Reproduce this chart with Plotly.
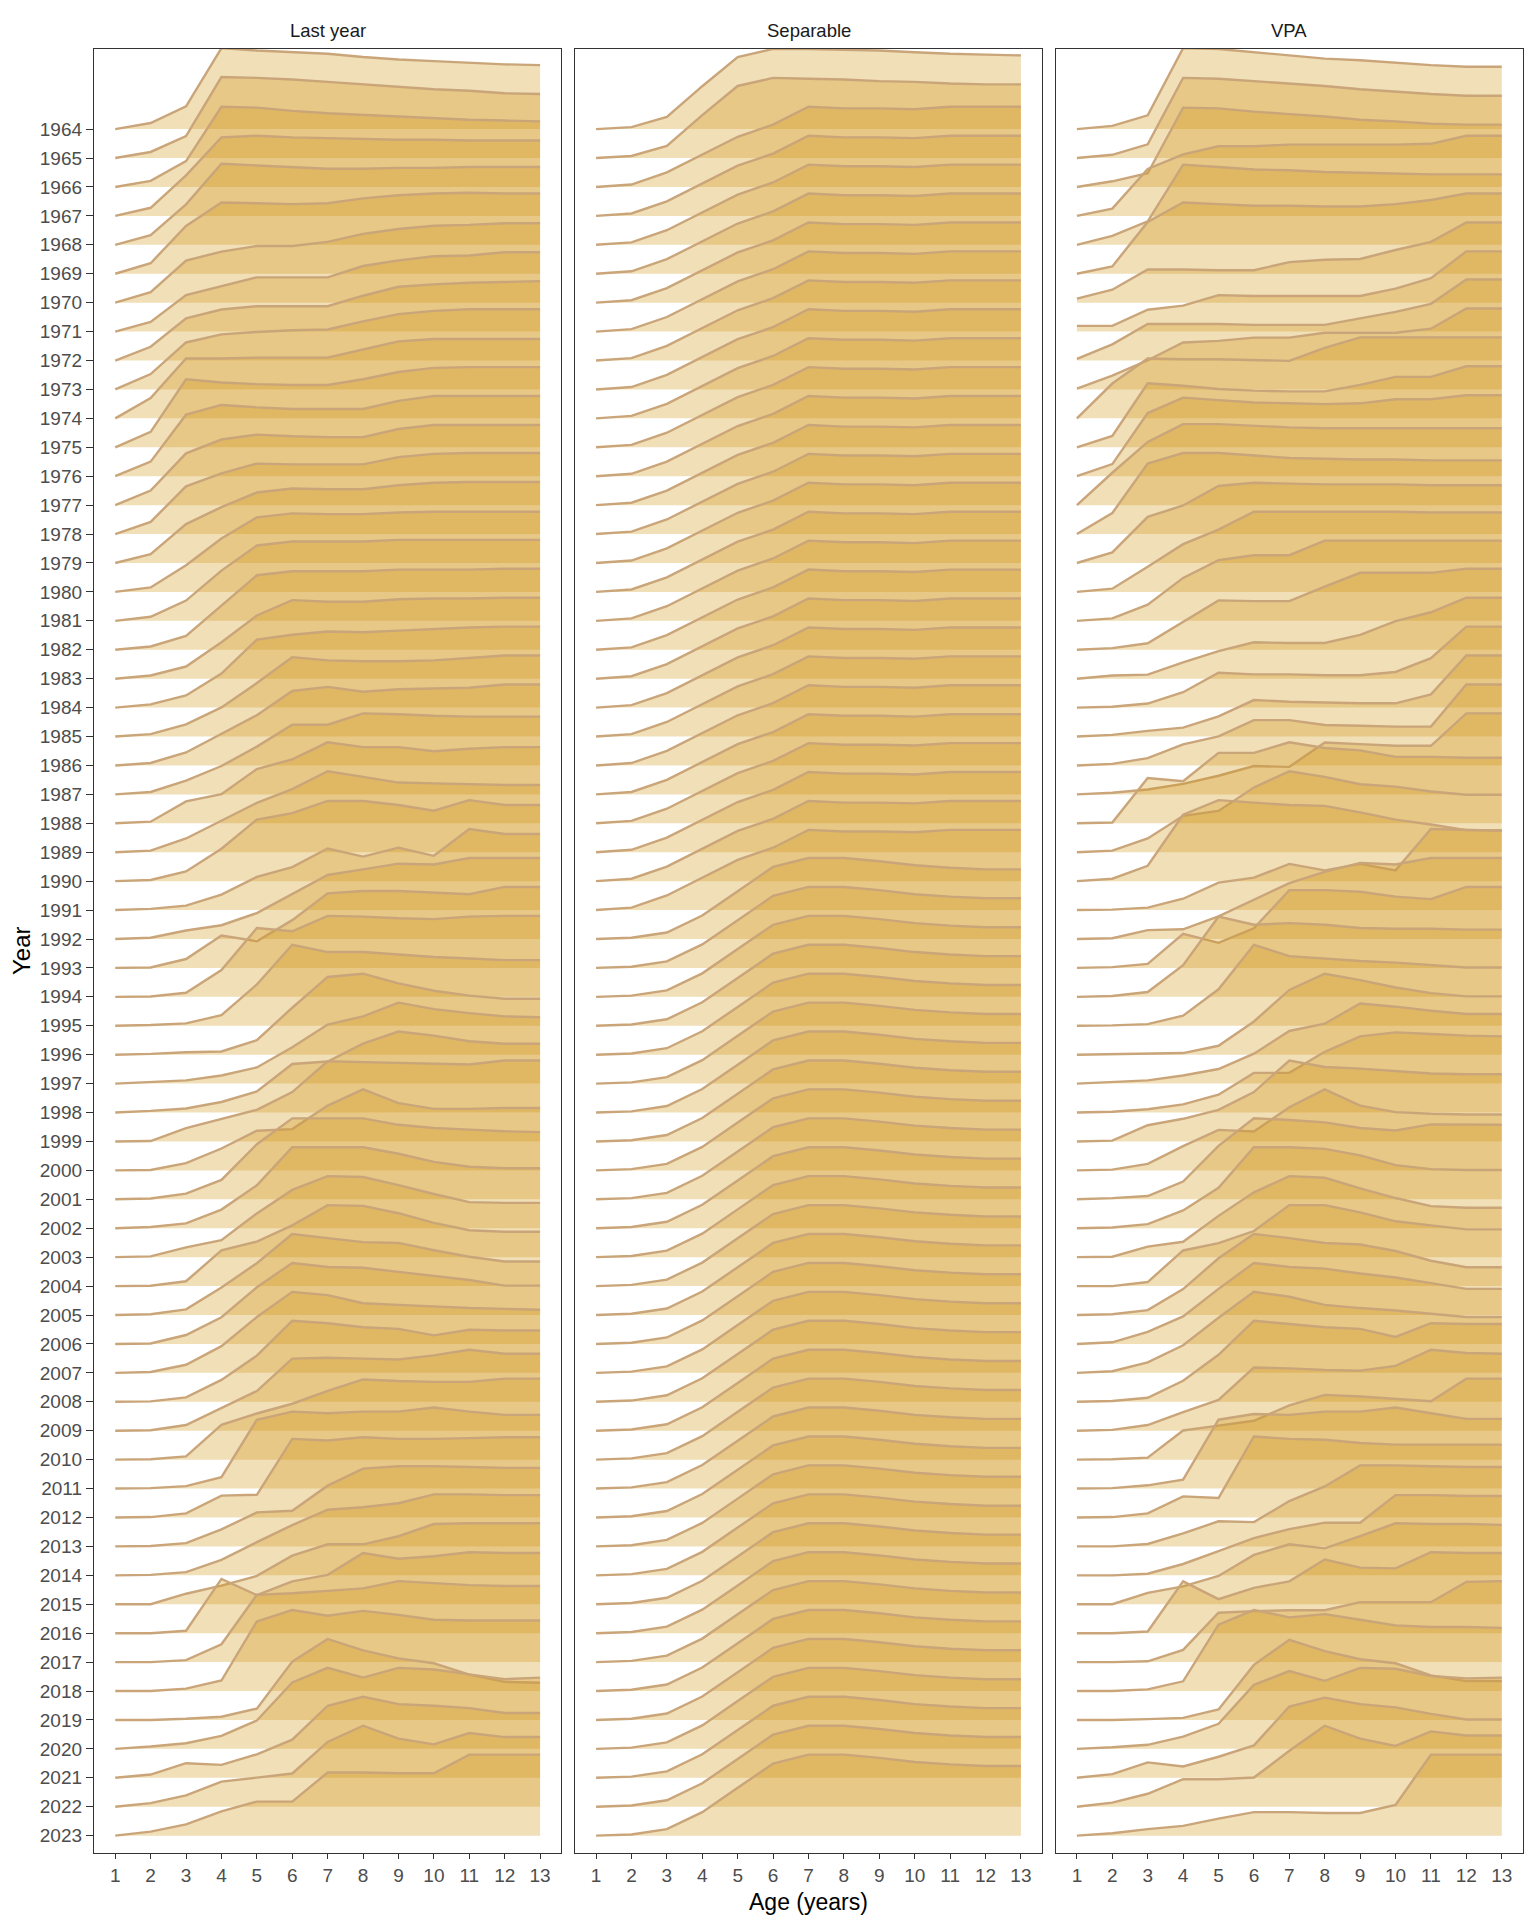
import plotly.graph_objects as go

YEARS = list(range(1964, 2024))
AGES = list(range(1, 14))
PANELS = ["Last year", "Separable", "VPA"]

# relative selectivity at age, one row per year 1964..2023
last_year = [
    [0, 0.075, 0.28, 1.0, 0.97, 0.95, 0.93, 0.89, 0.86, 0.84, 0.82, 0.80, 0.79],
    [0, 0.075, 0.27, 1.0, 0.99, 0.97, 0.94, 0.91, 0.88, 0.85, 0.83, 0.80, 0.79],
    [0, 0.075, 0.32, 0.99, 0.98, 0.94, 0.91, 0.89, 0.87, 0.85, 0.83, 0.82, 0.81],
    [0, 0.10, 0.50, 0.97, 0.99, 0.97, 0.96, 0.95, 0.94, 0.94, 0.93, 0.93, 0.93],
    [0, 0.12, 0.50, 1.0, 0.98, 0.96, 0.94, 0.94, 0.95, 0.95, 0.96, 0.96, 0.96],
    [0, 0.13, 0.59, 0.88, 0.87, 0.86, 0.87, 0.93, 0.97, 0.99, 1.0, 0.99, 0.99],
    [0, 0.13, 0.52, 0.63, 0.70, 0.70, 0.75, 0.85, 0.91, 0.95, 0.96, 0.98, 0.98],
    [0, 0.12, 0.45, 0.56, 0.67, 0.67, 0.67, 0.81, 0.88, 0.93, 0.94, 0.98, 0.98],
    [0, 0.17, 0.52, 0.63, 0.67, 0.67, 0.67, 0.80, 0.91, 0.94, 0.96, 0.97, 0.98],
    [0, 0.19, 0.58, 0.68, 0.71, 0.73, 0.74, 0.84, 0.93, 0.97, 0.99, 0.99, 0.99],
    [0, 0.25, 0.74, 0.74, 0.75, 0.75, 0.75, 0.85, 0.95, 0.98, 0.98, 0.98, 0.98],
    [0, 0.19, 0.84, 0.80, 0.78, 0.77, 0.77, 0.84, 0.93, 0.98, 0.99, 0.99, 0.99],
    [0, 0.18, 0.76, 0.88, 0.85, 0.83, 0.83, 0.83, 0.93, 0.99, 0.99, 0.99, 0.99],
    [0, 0.18, 0.64, 0.81, 0.87, 0.85, 0.84, 0.84, 0.94, 0.99, 0.99, 0.99, 0.99],
    [0, 0.15, 0.59, 0.75, 0.87, 0.86, 0.86, 0.86, 0.95, 0.99, 1.0, 1.0, 1.0],
    [0, 0.11, 0.48, 0.69, 0.87, 0.92, 0.91, 0.91, 0.96, 0.99, 1.0, 1.0, 1.0],
    [0, 0.055, 0.33, 0.66, 0.92, 0.97, 0.96, 0.96, 0.98, 0.99, 0.99, 0.99, 0.99],
    [0, 0.05, 0.25, 0.62, 0.93, 0.98, 0.98, 0.98, 1.0, 1.0, 1.0, 1.0, 1.0],
    [0, 0.04, 0.17, 0.55, 0.92, 0.97, 0.97, 0.97, 0.99, 0.99, 0.99, 1.0, 1.0],
    [0, 0.04, 0.15, 0.45, 0.78, 0.97, 0.95, 0.95, 0.98, 0.99, 0.99, 1.0, 1.0],
    [0, 0.04, 0.15, 0.42, 0.84, 0.90, 0.94, 0.93, 0.95, 0.97, 0.99, 1.0, 1.0],
    [0, 0.03, 0.15, 0.36, 0.66, 0.98, 0.94, 0.93, 0.93, 0.94, 0.97, 1.0, 1.0],
    [0, 0.03, 0.16, 0.39, 0.62, 0.92, 0.97, 0.91, 0.94, 0.95, 0.96, 1.0, 1.0],
    [0, 0.03, 0.17, 0.35, 0.59, 0.86, 0.86, 1.0, 0.99, 0.97, 0.96, 0.96, 0.96],
    [0, 0.02, 0.27, 0.36, 0.67, 0.79, 1.0, 0.94, 0.94, 0.89, 0.92, 0.94, 0.94],
    [0, 0.02, 0.17, 0.39, 0.61, 0.78, 1.0, 0.93, 0.86, 0.85, 0.84, 0.83, 0.83],
    [0, 0.015, 0.12, 0.40, 0.76, 0.84, 0.99, 0.99, 0.94, 0.87, 1.0, 0.94, 0.94],
    [0, 0.015, 0.055, 0.19, 0.41, 0.53, 0.76, 0.66, 0.77, 0.67, 1.0, 0.94, 0.94],
    [0, 0.015, 0.105, 0.17, 0.32, 0.55, 0.79, 0.86, 0.93, 0.92, 1.0, 1.0, 1.0],
    [0, 0.005, 0.11, 0.40, 0.33, 0.59, 0.92, 0.95, 0.95, 0.93, 0.91, 1.0, 1.0],
    [0, 0.005, 0.05, 0.33, 0.85, 0.81, 1.0, 0.99, 0.97, 0.96, 0.99, 1.0, 1.0],
    [0, 0.01, 0.03, 0.13, 0.51, 1.0, 0.91, 0.91, 0.88, 0.85, 0.83, 0.81, 0.81],
    [0, 0.01, 0.03, 0.04, 0.18, 0.58, 0.96, 1.0, 0.88, 0.79, 0.73, 0.69, 0.69],
    [0, 0.02, 0.04, 0.10, 0.20, 0.45, 0.73, 0.83, 1.0, 0.92, 0.87, 0.83, 0.82],
    [0, 0.02, 0.05, 0.13, 0.26, 0.60, 0.63, 0.85, 1.0, 0.95, 0.88, 0.85, 0.85],
    [0, 0.005, 0.165, 0.28, 0.39, 0.61, 0.99, 0.98, 0.97, 0.96, 0.95, 1.0, 1.0],
    [0, 0.005, 0.09, 0.27, 0.49, 0.51, 0.80, 1.0, 0.83, 0.76, 0.76, 0.77, 0.77],
    [0, 0.01, 0.07, 0.24, 0.68, 1.0, 1.0, 1.0, 0.92, 0.88, 0.86, 0.84, 0.83],
    [0, 0.015, 0.06, 0.23, 0.53, 1.0, 1.0, 1.0, 0.92, 0.82, 0.76, 0.74, 0.74],
    [0, 0.01, 0.12, 0.21, 0.54, 0.83, 1.0, 0.99, 0.89, 0.78, 0.68, 0.67, 0.67],
    [0, 0.005, 0.06, 0.44, 0.55, 0.75, 1.0, 0.99, 0.90, 0.78, 0.69, 0.67, 0.67],
    [0, 0.01, 0.07, 0.34, 0.64, 1.0, 0.95, 0.90, 0.89, 0.80, 0.72, 0.66, 0.66],
    [0, 0.005, 0.11, 0.33, 0.70, 1.0, 0.95, 0.94, 0.89, 0.84, 0.79, 0.72, 0.72],
    [0, 0.01, 0.10, 0.33, 0.69, 1.0, 0.96, 0.86, 0.84, 0.82, 0.80, 0.79, 0.78],
    [0, 0.005, 0.055, 0.27, 0.57, 1.0, 0.97, 0.92, 0.90, 0.82, 0.89, 0.88, 0.88],
    [0, 0.005, 0.07, 0.28, 0.49, 0.89, 0.90, 0.89, 0.88, 0.93, 1.0, 0.95, 0.95],
    [0, 0.005, 0.04, 0.43, 0.57, 0.69, 0.85, 0.99, 0.97, 0.96, 0.96, 1.0, 1.0],
    [0, 0.005, 0.03, 0.14, 0.85, 0.95, 0.93, 0.95, 0.95, 1.0, 0.95, 0.91, 0.91],
    [0, 0.005, 0.05, 0.27, 0.28, 0.97, 0.95, 0.99, 0.97, 0.97, 0.98, 0.99, 0.99],
    [0, 0.005, 0.04, 0.21, 0.42, 0.44, 0.75, 0.96, 0.99, 0.99, 0.98, 0.97, 0.97],
    [0, 0.005, 0.04, 0.19, 0.41, 0.62, 0.81, 0.84, 0.89, 1.0, 1.0, 0.99, 0.99],
    [0, 0.0, 0.13, 0.23, 0.35, 0.60, 0.74, 0.74, 0.84, 0.99, 1.0, 1.0, 1.0],
    [0, 0.0, 0.03, 0.67, 0.47, 0.64, 0.72, 0.99, 0.92, 0.95, 1.0, 0.99, 0.99],
    [0, 0.0, 0.025, 0.22, 0.83, 0.85, 0.88, 0.91, 1.0, 0.975, 0.95, 0.94, 0.94],
    [0, 0.0, 0.03, 0.13, 0.86, 1.0, 0.93, 0.99, 0.94, 0.88, 0.87, 0.87, 0.87],
    [0, 0.0, 0.015, 0.04, 0.14, 0.72, 1.0, 0.86, 0.76, 0.70, 0.56, 0.47, 0.46],
    [0, 0.03, 0.07, 0.16, 0.35, 0.82, 1.0, 0.88, 1.0, 0.98, 0.92, 0.86, 0.88],
    [0, 0.04, 0.18, 0.16, 0.29, 0.47, 0.89, 1.0, 0.91, 0.89, 0.86, 0.80, 0.80],
    [0, 0.045, 0.14, 0.31, 0.36, 0.41, 0.80, 1.0, 0.84, 0.77, 0.91, 0.86, 0.86],
    [0, 0.05, 0.14, 0.30, 0.42, 0.42, 0.78, 0.78, 0.77, 0.77, 1.0, 1.0, 1.0],
]

separable = [
    [0, 0.025, 0.15, 0.53, 0.89, 0.99, 0.99, 0.98, 0.97, 0.95, 0.93, 0.92, 0.91],
    [0, 0.025, 0.15, 0.53, 0.89, 0.99, 0.98, 0.97, 0.95, 0.94, 0.92, 0.91, 0.91],
    [0, 0.03, 0.18, 0.40, 0.62, 0.77, 0.99, 0.97, 0.97, 0.96, 0.99, 0.99, 0.99],
    [0, 0.03, 0.18, 0.40, 0.62, 0.77, 0.99, 0.97, 0.97, 0.96, 0.99, 0.99, 0.99],
    [0, 0.03, 0.18, 0.40, 0.62, 0.77, 0.99, 0.97, 0.97, 0.96, 0.99, 0.99, 0.99],
    [0, 0.03, 0.18, 0.40, 0.62, 0.77, 0.99, 0.97, 0.97, 0.96, 0.99, 0.99, 0.99],
    [0, 0.03, 0.18, 0.40, 0.62, 0.77, 0.99, 0.97, 0.97, 0.96, 0.99, 0.99, 0.99],
    [0, 0.03, 0.18, 0.40, 0.62, 0.77, 0.99, 0.97, 0.97, 0.96, 0.99, 0.99, 0.99],
    [0, 0.03, 0.18, 0.40, 0.62, 0.77, 0.99, 0.97, 0.97, 0.96, 0.99, 0.99, 0.99],
    [0, 0.03, 0.18, 0.40, 0.62, 0.77, 0.99, 0.97, 0.97, 0.96, 0.99, 0.99, 0.99],
    [0, 0.03, 0.18, 0.40, 0.62, 0.77, 0.99, 0.97, 0.97, 0.96, 0.99, 0.99, 0.99],
    [0, 0.03, 0.18, 0.40, 0.62, 0.77, 0.99, 0.97, 0.97, 0.96, 0.99, 0.99, 0.99],
    [0, 0.03, 0.18, 0.40, 0.62, 0.77, 0.99, 0.97, 0.97, 0.96, 0.99, 0.99, 0.99],
    [0, 0.03, 0.18, 0.40, 0.62, 0.77, 0.99, 0.97, 0.97, 0.96, 0.99, 0.99, 0.99],
    [0, 0.03, 0.18, 0.40, 0.62, 0.77, 0.99, 0.97, 0.97, 0.96, 0.99, 0.99, 0.99],
    [0, 0.03, 0.18, 0.40, 0.62, 0.77, 0.99, 0.97, 0.97, 0.96, 0.99, 0.99, 0.99],
    [0, 0.03, 0.18, 0.40, 0.62, 0.77, 0.99, 0.97, 0.97, 0.96, 0.99, 0.99, 0.99],
    [0, 0.03, 0.18, 0.40, 0.62, 0.77, 0.99, 0.97, 0.97, 0.96, 0.99, 0.99, 0.99],
    [0, 0.03, 0.18, 0.40, 0.62, 0.77, 0.99, 0.97, 0.97, 0.96, 0.99, 0.99, 0.99],
    [0, 0.03, 0.18, 0.40, 0.62, 0.77, 0.99, 0.97, 0.97, 0.96, 0.99, 0.99, 0.99],
    [0, 0.03, 0.18, 0.40, 0.62, 0.77, 0.99, 0.97, 0.97, 0.96, 0.99, 0.99, 0.99],
    [0, 0.03, 0.18, 0.40, 0.62, 0.77, 0.99, 0.97, 0.97, 0.96, 0.99, 0.99, 0.99],
    [0, 0.03, 0.18, 0.40, 0.62, 0.77, 0.99, 0.97, 0.97, 0.96, 0.99, 0.99, 0.99],
    [0, 0.03, 0.18, 0.40, 0.62, 0.77, 0.99, 0.97, 0.97, 0.96, 0.99, 0.99, 0.99],
    [0, 0.03, 0.18, 0.40, 0.62, 0.77, 0.99, 0.97, 0.97, 0.96, 0.99, 0.99, 0.99],
    [0, 0.03, 0.18, 0.40, 0.62, 0.77, 0.99, 0.97, 0.97, 0.96, 0.99, 0.99, 0.99],
    [0, 0.03, 0.18, 0.40, 0.62, 0.77, 0.99, 0.97, 0.97, 0.96, 0.99, 0.99, 0.99],
    [0, 0.03, 0.18, 0.40, 0.62, 0.77, 0.99, 0.97, 0.97, 0.96, 0.99, 0.99, 0.99],
    [0, 0.015, 0.08, 0.29, 0.59, 0.89, 1.0, 1.0, 0.96, 0.91, 0.88, 0.86, 0.86],
    [0, 0.015, 0.08, 0.29, 0.59, 0.89, 1.0, 1.0, 0.96, 0.91, 0.88, 0.86, 0.86],
    [0, 0.015, 0.08, 0.29, 0.59, 0.89, 1.0, 1.0, 0.96, 0.91, 0.88, 0.86, 0.86],
    [0, 0.015, 0.08, 0.29, 0.59, 0.89, 1.0, 1.0, 0.96, 0.91, 0.88, 0.86, 0.86],
    [0, 0.015, 0.08, 0.29, 0.59, 0.89, 1.0, 1.0, 0.96, 0.91, 0.88, 0.86, 0.86],
    [0, 0.015, 0.08, 0.29, 0.59, 0.89, 1.0, 1.0, 0.96, 0.91, 0.88, 0.86, 0.86],
    [0, 0.015, 0.08, 0.29, 0.59, 0.89, 1.0, 1.0, 0.96, 0.91, 0.88, 0.86, 0.86],
    [0, 0.015, 0.08, 0.29, 0.59, 0.89, 1.0, 1.0, 0.96, 0.91, 0.88, 0.86, 0.86],
    [0, 0.015, 0.08, 0.29, 0.59, 0.89, 1.0, 1.0, 0.96, 0.91, 0.88, 0.86, 0.86],
    [0, 0.015, 0.08, 0.29, 0.59, 0.89, 1.0, 1.0, 0.96, 0.91, 0.88, 0.86, 0.86],
    [0, 0.015, 0.08, 0.29, 0.59, 0.89, 1.0, 1.0, 0.96, 0.91, 0.88, 0.86, 0.86],
    [0, 0.015, 0.08, 0.29, 0.59, 0.89, 1.0, 1.0, 0.96, 0.91, 0.88, 0.86, 0.86],
    [0, 0.015, 0.08, 0.29, 0.59, 0.89, 1.0, 1.0, 0.96, 0.91, 0.88, 0.86, 0.86],
    [0, 0.015, 0.08, 0.29, 0.59, 0.89, 1.0, 1.0, 0.96, 0.91, 0.88, 0.86, 0.86],
    [0, 0.015, 0.08, 0.29, 0.59, 0.89, 1.0, 1.0, 0.96, 0.91, 0.88, 0.86, 0.86],
    [0, 0.015, 0.08, 0.29, 0.59, 0.89, 1.0, 1.0, 0.96, 0.91, 0.88, 0.86, 0.86],
    [0, 0.015, 0.08, 0.29, 0.59, 0.89, 1.0, 1.0, 0.96, 0.91, 0.88, 0.86, 0.86],
    [0, 0.015, 0.08, 0.29, 0.59, 0.89, 1.0, 1.0, 0.96, 0.91, 0.88, 0.86, 0.86],
    [0, 0.015, 0.08, 0.29, 0.59, 0.89, 1.0, 1.0, 0.96, 0.91, 0.88, 0.86, 0.86],
    [0, 0.015, 0.08, 0.29, 0.59, 0.89, 1.0, 1.0, 0.96, 0.91, 0.88, 0.86, 0.86],
    [0, 0.015, 0.08, 0.29, 0.59, 0.89, 1.0, 1.0, 0.96, 0.91, 0.88, 0.86, 0.86],
    [0, 0.015, 0.08, 0.29, 0.59, 0.89, 1.0, 1.0, 0.96, 0.91, 0.88, 0.86, 0.86],
    [0, 0.015, 0.08, 0.29, 0.59, 0.89, 1.0, 1.0, 0.96, 0.91, 0.88, 0.86, 0.86],
    [0, 0.015, 0.08, 0.29, 0.59, 0.89, 1.0, 1.0, 0.96, 0.91, 0.88, 0.86, 0.86],
    [0, 0.015, 0.08, 0.29, 0.59, 0.89, 1.0, 1.0, 0.96, 0.91, 0.88, 0.86, 0.86],
    [0, 0.015, 0.08, 0.29, 0.59, 0.89, 1.0, 1.0, 0.96, 0.91, 0.88, 0.86, 0.86],
    [0, 0.015, 0.08, 0.29, 0.59, 0.89, 1.0, 1.0, 0.96, 0.91, 0.88, 0.86, 0.86],
    [0, 0.015, 0.08, 0.29, 0.59, 0.89, 1.0, 1.0, 0.96, 0.91, 0.88, 0.86, 0.86],
    [0, 0.015, 0.08, 0.29, 0.59, 0.89, 1.0, 1.0, 0.96, 0.91, 0.88, 0.86, 0.86],
    [0, 0.015, 0.08, 0.29, 0.59, 0.89, 1.0, 1.0, 0.96, 0.91, 0.88, 0.86, 0.86],
    [0, 0.015, 0.08, 0.29, 0.59, 0.89, 1.0, 1.0, 0.96, 0.91, 0.88, 0.86, 0.86],
    [0, 0.015, 0.08, 0.29, 0.59, 0.89, 1.0, 1.0, 0.96, 0.91, 0.88, 0.86, 0.86],
]

vpa = [
    [0, 0.04, 0.17, 1.0, 0.99, 0.95, 0.91, 0.87, 0.85, 0.82, 0.79, 0.77, 0.77],
    [0, 0.04, 0.17, 0.99, 0.98, 0.95, 0.92, 0.89, 0.85, 0.82, 0.79, 0.77, 0.77],
    [0, 0.07, 0.17, 0.98, 0.97, 0.93, 0.90, 0.87, 0.83, 0.81, 0.78, 0.77, 0.77],
    [0, 0.09, 0.58, 0.76, 0.86, 0.86, 0.88, 0.88, 0.88, 0.88, 0.89, 0.99, 0.99],
    [0, 0.11, 0.29, 0.99, 0.96, 0.93, 0.92, 0.90, 0.89, 0.88, 0.87, 0.87, 0.87],
    [0, 0.09, 0.64, 0.88, 0.86, 0.84, 0.84, 0.83, 0.83, 0.86, 0.91, 0.99, 0.99],
    [0.05, 0.16, 0.41, 0.41, 0.40, 0.40, 0.50, 0.53, 0.54, 0.65, 0.75, 0.99, 0.99],
    [0.07, 0.07, 0.27, 0.32, 0.45, 0.44, 0.44, 0.44, 0.44, 0.53, 0.66, 0.99, 0.99],
    [0.02, 0.20, 0.45, 0.45, 0.45, 0.44, 0.44, 0.44, 0.52, 0.60, 0.70, 1.0, 1.0],
    [0.01, 0.17, 0.36, 0.58, 0.60, 0.64, 0.64, 0.70, 0.70, 0.70, 0.75, 1.0, 1.0],
    [0, 0.43, 0.74, 0.73, 0.73, 0.72, 0.71, 0.87, 1.0, 1.0, 1.0, 1.0, 1.0],
    [0, 0.14, 0.79, 0.76, 0.72, 0.70, 0.69, 0.69, 0.77, 0.87, 0.87, 1.0, 1.0],
    [0, 0.15, 0.78, 0.97, 0.94, 0.91, 0.90, 0.89, 0.90, 0.95, 0.95, 1.0, 1.0],
    [0, 0.40, 0.78, 1.0, 1.0, 0.98, 0.96, 0.95, 0.95, 0.95, 0.95, 0.95, 0.95],
    [0, 0.26, 0.87, 1.0, 1.0, 0.97, 0.94, 0.93, 0.92, 0.92, 0.91, 0.91, 0.91],
    [0, 0.13, 0.57, 0.71, 0.95, 0.99, 0.98, 0.97, 0.97, 0.97, 0.96, 0.96, 0.96],
    [0, 0.04, 0.31, 0.59, 0.77, 0.99, 0.99, 0.99, 0.99, 0.99, 0.98, 0.98, 0.98],
    [0, 0.03, 0.20, 0.53, 0.75, 0.81, 0.81, 0.99, 0.99, 0.99, 0.99, 0.99, 0.99],
    [0, 0.02, 0.08, 0.35, 0.61, 0.60, 0.60, 0.78, 0.95, 0.95, 0.95, 1.0, 1.0],
    [0, 0.04, 0.05, 0.20, 0.34, 0.45, 0.44, 0.44, 0.54, 0.71, 0.82, 1.0, 1.0],
    [0, 0.01, 0.05, 0.19, 0.43, 0.41, 0.41, 0.40, 0.40, 0.44, 0.61, 1.0, 1.0],
    [0, 0.02, 0.07, 0.11, 0.25, 0.45, 0.43, 0.42, 0.41, 0.41, 0.52, 1.0, 1.0],
    [0, 0.02, 0.09, 0.26, 0.36, 0.56, 0.56, 0.50, 0.49, 0.48, 0.48, 1.0, 1.0],
    [0, 0.02, 0.06, 0.13, 0.23, 0.35, 0.34, 0.64, 0.62, 0.60, 0.60, 1.0, 1.0],
    [0, 0.01, 0.56, 0.52, 0.87, 0.87, 1.0, 0.93, 0.90, 0.82, 0.82, 0.81, 0.81],
    [0, 0.02, 0.17, 0.45, 0.51, 0.80, 1.0, 0.93, 0.84, 0.81, 0.75, 0.71, 0.71],
    [0, 0.03, 0.19, 0.82, 1.0, 0.97, 0.94, 0.93, 0.85, 0.76, 0.70, 0.63, 0.63],
    [0, 0.005, 0.03, 0.14, 0.34, 0.40, 0.57, 0.49, 0.57, 0.49, 1.0, 0.99, 0.98],
    [0, 0.01, 0.11, 0.12, 0.28, 0.49, 0.69, 0.83, 0.94, 0.92, 1.0, 1.0, 1.0],
    [0, 0.01, 0.05, 0.42, 0.31, 0.49, 0.96, 0.96, 0.94, 0.88, 0.85, 1.0, 1.0],
    [0, 0.01, 0.06, 0.39, 0.99, 0.89, 0.91, 0.89, 0.85, 0.84, 0.84, 0.83, 0.83],
    [0, 0.005, 0.02, 0.125, 0.45, 1.0, 0.86, 0.83, 0.80, 0.78, 0.75, 0.72, 0.72],
    [0, 0.005, 0.01, 0.02, 0.11, 0.41, 0.80, 1.0, 0.92, 0.83, 0.76, 0.72, 0.72],
    [0, 0.02, 0.04, 0.10, 0.18, 0.37, 0.65, 0.74, 0.99, 0.95, 0.90, 0.86, 0.86],
    [0, 0.01, 0.04, 0.10, 0.22, 0.49, 0.49, 0.75, 0.94, 0.99, 0.97, 0.95, 0.94],
    [0, 0.01, 0.20, 0.28, 0.39, 0.61, 1.0, 0.92, 0.90, 0.87, 0.84, 0.83, 0.83],
    [0, 0.01, 0.08, 0.30, 0.50, 0.48, 0.78, 1.0, 0.80, 0.72, 0.70, 0.69, 0.69],
    [0, 0.015, 0.04, 0.22, 0.66, 1.0, 0.98, 0.95, 0.88, 0.85, 0.925, 0.92, 0.92],
    [0, 0.01, 0.05, 0.22, 0.50, 1.0, 1.0, 0.98, 0.90, 0.78, 0.73, 0.72, 0.72],
    [0, 0.005, 0.13, 0.19, 0.51, 0.80, 1.0, 0.98, 0.85, 0.73, 0.63, 0.61, 0.61],
    [0, 0.0, 0.05, 0.44, 0.53, 0.68, 1.0, 1.0, 0.91, 0.80, 0.75, 0.70, 0.70],
    [0, 0.01, 0.06, 0.32, 0.70, 1.0, 0.95, 0.89, 0.87, 0.79, 0.67, 0.59, 0.59],
    [0, 0.02, 0.15, 0.34, 0.68, 1.0, 0.95, 0.93, 0.87, 0.82, 0.75, 0.68, 0.68],
    [0, 0.02, 0.13, 0.34, 0.68, 1.0, 0.94, 0.84, 0.80, 0.77, 0.73, 0.69, 0.69],
    [0, 0.01, 0.05, 0.26, 0.58, 1.0, 0.96, 0.92, 0.90, 0.80, 0.97, 0.96, 0.96],
    [0, 0.01, 0.07, 0.23, 0.38, 0.78, 0.77, 0.75, 0.74, 0.80, 1.0, 0.96, 0.95],
    [0, 0.005, 0.025, 0.36, 0.42, 0.48, 0.67, 0.80, 0.78, 0.75, 0.72, 1.0, 1.0],
    [0, 0.005, 0.04, 0.11, 0.85, 0.92, 0.91, 0.95, 0.95, 1.0, 0.93, 0.86, 0.86],
    [0, 0.005, 0.05, 0.26, 0.24, 1.0, 0.97, 0.96, 0.92, 0.90, 0.90, 0.90, 0.90],
    [0, 0.0, 0.03, 0.16, 0.31, 0.30, 0.56, 0.74, 1.0, 1.0, 0.99, 0.98, 0.98],
    [0, 0.0, 0.02, 0.14, 0.30, 0.46, 0.57, 0.65, 0.65, 0.99, 0.99, 0.98, 0.98],
    [0, 0.0, 0.14, 0.22, 0.35, 0.61, 0.74, 0.69, 0.84, 1.0, 0.99, 0.99, 0.98],
    [0, 0.0, 0.02, 0.64, 0.42, 0.56, 0.64, 0.91, 0.81, 0.80, 1.0, 0.99, 0.99],
    [0, 0.0, 0.01, 0.15, 0.61, 0.63, 0.64, 0.64, 0.74, 0.74, 0.74, 0.99, 1.0],
    [0, 0.0, 0.02, 0.12, 0.82, 1.0, 0.91, 0.95, 0.88, 0.81, 0.79, 0.79, 0.78],
    [0, 0.0, 0.01, 0.025, 0.13, 0.68, 0.99, 0.85, 0.75, 0.70, 0.55, 0.48, 0.48],
    [0, 0.02, 0.05, 0.15, 0.31, 0.79, 0.96, 0.84, 1.0, 0.99, 0.90, 0.87, 0.88],
    [0, 0.045, 0.19, 0.14, 0.26, 0.40, 0.88, 0.99, 0.91, 0.87, 0.79, 0.72, 0.72],
    [0, 0.05, 0.16, 0.34, 0.34, 0.36, 0.69, 1.0, 0.84, 0.75, 0.93, 0.88, 0.88],
    [0, 0.03, 0.08, 0.12, 0.21, 0.29, 0.29, 0.28, 0.28, 0.38, 1.0, 1.0, 1.0],
]

DATA = [last_year, separable, vpa]

RIDGE_SCALE = 2.8          # ridge height (in year rows) of a value of 1
FILL = "rgba(208,150,20,0.30)"
LINE = "rgb(201,165,121)"
FONT = "Liberation Sans, Arial, Helvetica, sans-serif"

fig = go.Figure()
for k, table in enumerate(DATA):
    xa = "x" if k == 0 else f"x{k+1}"
    ya = "y" if k == 0 else f"y{k+1}"
    for yr, vals in zip(YEARS, table):
        top = [yr - RIDGE_SCALE * v for v in vals]
        fig.add_trace(go.Scatter(
            x=AGES + AGES[::-1], y=top + [yr] * len(AGES),
            mode="lines", fill="toself", fillcolor=FILL,
            line=dict(width=0, color="rgba(0,0,0,0)"),
            hoverinfo="skip", showlegend=False, xaxis=xa, yaxis=ya))
        fig.add_trace(go.Scatter(
            x=AGES, y=top, mode="lines",
            line=dict(width=2.4, color=LINE),
            hoverinfo="skip", showlegend=False, xaxis=xa, yaxis=ya))

W, H = 1536, 1920
L, R, T, B = 94, 13, 49, 67
pw = W - L - R
gap = 13.5
panel_w = (pw - 2 * gap) / 3
domains = []
for k in range(3):
    a = (k * (panel_w + gap)) / pw
    domains.append([a, min(1.0, a + panel_w / pw)])

axis_common = dict(showgrid=False, zeroline=False, showline=True, mirror=True,
                   linecolor="#333333", linewidth=1.3)
layout = dict(
    width=W, height=H, margin=dict(l=L, r=R, t=T, b=B),
    paper_bgcolor="white", plot_bgcolor="white",
    font=dict(family=FONT, color="#4D4D4D"),
    showlegend=False,
)
for k in range(3):
    sx = "" if k == 0 else str(k + 1)
    layout["xaxis" + sx] = dict(
        axis_common, domain=domains[k], range=[0.4, 13.6],
        tickmode="array", tickvals=AGES, ticktext=[str(a) for a in AGES],
        ticks="outside", ticklen=5, tickwidth=1.3, tickcolor="#333333",
        tickfont=dict(size=19, color="#4D4D4D", family=FONT),
        anchor="y" + sx)
    layout["yaxis" + sx] = dict(
        axis_common, domain=[0, 1], range=[2023.6, 1961.23],
        tickmode="array", tickvals=YEARS, ticktext=[str(y) for y in YEARS],
        ticks="outside" if k == 0 else "", ticklen=7, tickwidth=1.3, tickcolor="#333333",
        showticklabels=(k == 0),
        tickfont=dict(size=19, color="#4D4D4D", family=FONT),
        anchor="x" + sx)
fig.update_layout(**layout)

annotations = []
for k, name in enumerate(PANELS):
    annotations.append(dict(
        text=name, xref="paper", yref="paper",
        x=(domains[k][0] + domains[k][1]) / 2, y=1 + (T - 31) / (H - T - B),
        xanchor="center", yanchor="middle", showarrow=False,
        font=dict(size=18.5, color="#1A1A1A", family=FONT)))
annotations.append(dict(
    text="Age (years)", xref="paper", yref="paper", x=0.5,
    y=-(1902 - (H - B)) / (H - T - B), xanchor="center", yanchor="middle",
    showarrow=False, font=dict(size=23, color="#000000", family=FONT)))
annotations.append(dict(
    text="Year", xref="paper", yref="paper", x=(21 - L) / pw, y=0.5,
    xanchor="center", yanchor="middle", textangle=-90, showarrow=False,
    font=dict(size=24, color="#000000", family=FONT)))
fig.update_layout(annotations=annotations)

fig.write_html("out.html")
